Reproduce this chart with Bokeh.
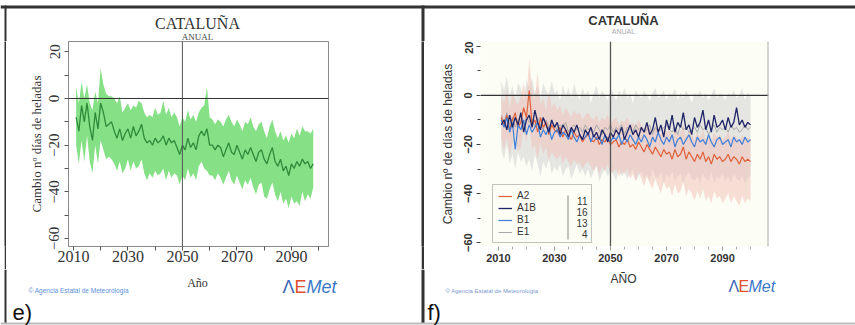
from bokeh.plotting import figure
from bokeh.layouts import row, column
from bokeh.models import (Range1d, FixedTicker, Span, Label, BoxAnnotation,
                          Legend, LegendItem)
from bokeh.embed import file_html
from bokeh.resources import INLINE

# ---------------- data: panel e (annual, ensemble) ----------------
years_e = list(range(2011, 2099))
mean_e = [-8, -14, -3, -10, -2, -12, -18, -6, -13, -2,
          -6, -12, -11, -10, -14, -17, -13, -18, -15, -13,
          -17, -12, -16, -14, -11, -17, -19, -18, -20, -17,
          -19, -18, -16, -20, -17, -19, -18, -21, -24, -20,
          -22, -17, -21, -19, -22, -16, -14, -16, -13, -20,
          -20, -22, -20, -21, -25, -22, -19, -23, -24, -20,
          -23, -26, -22, -24, -21, -24, -27, -23, -22, -26,
          -28, -24, -21, -27, -29, -26, -31, -29, -33, -28,
          -30, -27, -29, -26, -28, -27, -30, -28]
hi_e = [5, -2, 7, 0, 6, -2, -5, 3, -2, 13,
        6, 2, 1, 1, 0, -2, 1, -6, -4, -2,
        -5, -3, -4, -1, -2, -6, -8, -7, -8, -4,
        -7, -6, -1, -7, -4, -8, -6, -8, -12, -8,
        -10, -5, -9, -7, -10, -6, -4, -3, 5, -8,
        -9, -11, -9, -10, -12, -9, -7, -10, -12, -9,
        -11, -14, -10, -11, -8, -12, -14, -11, -10, -14,
        -17, -12, -9, -14, -17, -14, -18, -16, -19, -15,
        -17, -13, -16, -12, -14, -14, -15, -13]
lo_e = [-20, -28, -18, -27, -16, -27, -32, -20, -28, -18,
        -22, -26, -25, -26, -28, -31, -27, -32, -30, -26,
        -31, -27, -30, -29, -26, -32, -35, -32, -34, -31,
        -33, -32, -30, -35, -31, -34, -32, -33, -37, -33,
        -35, -30, -34, -32, -35, -29, -27, -30, -31, -33,
        -33, -35, -32, -34, -37, -34, -31, -35, -37, -33,
        -36, -39, -35, -37, -34, -38, -41, -37, -36, -42,
        -43, -39, -36, -41, -44, -40, -45, -43, -47, -42,
        -45, -44, -46, -40, -44, -41, -43, -38]

# ---------------- data: panel f (per scenario) ----------------
years_f = list(range(2011, 2101))
scen_names = ["A2", "A1B", "B1", "E1"]
scen_counts = ["11", "16", "13", "4"]
mean_a2 = [-9, -12, -8, -14, -10, -7, -13, -11, -5, -9,
           2, -12, -10, -15, -9, -13, -11, -16, -12, -14,
           -15, -13, -17, -14, -16, -18, -15, -17, -16, -19,
           -17, -16, -18, -19, -17, -20, -18, -19, -17, -20,
           -19, -18, -21, -19, -20, -18, -21, -20, -22, -19,
           -21, -23, -20, -22, -24, -21, -23, -25, -22, -24,
           -23, -26, -22, -25, -24, -21, -26, -23, -25, -27,
           -24, -26, -23, -27, -25, -28, -24, -26, -25, -27,
           -26, -24, -27, -25, -26, -28, -25, -27, -26, -27]
mean_a1b = [-12, -10, -14, -8, -13, -9, -12, -7, -15, -10,
            -8, -13, -6, -11, -14, -9, -12, -15, -10, -13,
            -11, -16, -12, -14, -17, -13, -15, -12, -16, -18,
            -14, -16, -13, -17, -15, -18, -14, -16, -19, -15,
            -17, -14, -16, -13, -18, -15, -12, -16, -14, -17,
            -13, -15, -11, -16, -14, -9, -15, -12, -17, -10,
            -14, -8, -15, -11, -13, -7, -14, -12, -16, -9,
            -13, -11, -6, -14, -10, -15, -8, -13, -12, -10,
            -14, -9, -13, -11, -5, -12, -10, -13, -11, -12]
mean_b1 = [-10, -13, -9, -15, -11, -22, -12, -14, -10, -16,
           -12, -15, -13, -11, -17, -14, -16, -13, -18, -15,
           -14, -17, -15, -16, -18, -14, -17, -19, -16, -18,
           -17, -15, -19, -16, -18, -17, -20, -16, -18, -19,
           -17, -18, -16, -20, -17, -19, -16, -18, -20, -17,
           -19, -16, -18, -21, -17, -19, -15, -18, -20, -17,
           -19, -16, -21, -18, -17, -20, -18, -16, -19, -21,
           -17, -19, -18, -20, -16, -19, -21, -18, -17, -20,
           -19, -18, -21, -17, -19, -18, -20, -17, -19, -18]
mean_e1 = [-8, -11, -7, -12, -9, -13, -10, -8, -12, -9,
           -11, -10, -13, -9, -12, -14, -10, -13, -11, -12,
           -14, -12, -13, -11, -15, -13, -12, -14, -13, -15,
           -12, -14, -13, -15, -12, -14, -16, -13, -14, -12,
           -15, -13, -14, -12, -16, -13, -14, -15, -12, -14,
           -13, -15, -14, -12, -16, -13, -15, -14, -13, -12,
           -14, -15, -13, -16, -12, -14, -13, -15, -14, -13,
           -15, -12, -14, -13, -16, -14, -12, -15, -13, -14,
           -13, -15, -12, -14, -13, -15, -14, -12, -14, -13]
hi_e1 = [6, 2, 8, 0, 4, -1, 5, 3, -2, 6,
         3, 7, 1, 4, -1, 5, 2, 0, 6, 1,
         2, -2, 4, 0, 3, -1, 5, 1, -2, 3,
         0, 2, -3, 1, 4, -1, 2, 0, -2, 3,
         1, -2, 2, 0, 3, -1, 1, -3, 2, 0,
         -1, 2, 0, -2, 1, 3, -1, 0, 2, -2,
         1, 0, 3, -2, 1, -1, 2, 0, -3, 1,
         0, 2, -1, 1, -2, 0, 3, -1, 1, 0,
         -2, 1, 0, 2, -1, 0, 3, -2, 1, 0]
lo_e1 = [-22, -26, -20, -28, -24, -30, -23, -27, -25, -29,
         -26, -31, -24, -28, -33, -27, -30, -26, -32, -29,
         -31, -28, -33, -30, -29, -34, -31, -28, -32, -30,
         -33, -30, -34, -31, -29, -35, -32, -30, -33, -31,
         -32, -35, -30, -33, -31, -34, -32, -30, -35, -33,
         -31, -34, -32, -35, -30, -33, -34, -31, -36, -32,
         -34, -31, -35, -33, -32, -36, -33, -31, -34, -35,
         -33, -36, -32, -34, -35, -31, -36, -33, -34, -32,
         -35, -33, -36, -32, -34, -35, -33, -36, -34, -33]
hi_a2 = [0, -3, 2, -5, 1, -2, -4, 0, 5, -1,
         15, 3, -2, 10, -4, -1, -6, 2, -5, -3,
         -6, -4, -8, -5, -7, -9, -6, -8, -7, -10,
         -8, -7, -9, -10, -8, -11, -9, -10, -8, -11,
         -10, -9, -12, -10, -11, -9, -12, -11, -13, -10,
         -12, -14, -11, -13, -15, -12, -14, -16, -13, -15,
         -14, -17, -13, -16, -15, -12, -17, -14, -16, -18,
         -15, -17, -14, -18, -16, -19, -15, -17, -16, -18,
         -17, -15, -18, -16, -17, -19, -16, -18, -17, -18]
lo_a2 = [-18, -22, -17, -24, -20, -15, -23, -21, -14, -19,
         -12, -22, -20, -26, -19, -24, -21, -27, -23, -25,
         -26, -24, -28, -25, -27, -29, -26, -28, -27, -30,
         -28, -27, -29, -31, -28, -32, -29, -31, -28, -32,
         -31, -30, -33, -31, -32, -30, -34, -32, -35, -31,
         -34, -37, -33, -36, -38, -34, -37, -40, -35, -38,
         -37, -41, -36, -40, -39, -35, -41, -38, -40, -43,
         -39, -42, -38, -43, -41, -44, -39, -42, -41, -44,
         -42, -40, -44, -41, -43, -45, -41, -44, -42, -43]

x_major = [2010, 2030, 2050, 2070, 2090]
x_minor_e = [2020, 2040, 2060, 2080, 2100]
x_minor_f = [2015, 2020, 2025, 2035, 2040, 2045, 2055, 2060, 2065, 2075, 2080, 2085, 2095, 2100]
y_major = [20, 0, -20, -40, -60]
y_minor = [10, -10, -30, -50]

W = 855
H = 325
T = 41          # top strip height (frames start here)
M = 228         # chart row height
B = H - T - M   # bottom strip height
PAD = 4         # white gap left of the first panel border
LW_E = 2        # left border width
W_E = 415
LW_F = 3        # divider width
W_F = W - PAD - LW_E - W_E - LW_F
X_DIV = PAD + LW_E + W_E
SERIF = "Liberation Serif"
SANS = "Liberation Sans"
DARK = "#333333"


def canvas_label(p, x, y, text, size, color="#222", font=SANS, align="center",
                 style="normal", baseline="middle", level="overlay"):
    p.add_layout(Label(x=x, y=y, x_units="canvas", y_units="canvas", text=text,
                       text_font=font, text_font_size=size, text_color=color,
                       text_align=align, text_baseline=baseline,
                       text_font_style=style, level=level))


def canvas_box(p, l, r, t, b, color):
    p.add_layout(BoxAnnotation(left=l, right=r, top=t, bottom=b,
                               left_units="canvas", right_units="canvas",
                               top_units="canvas", bottom_units="canvas",
                               fill_color=color, fill_alpha=1.0, line_color=None))


def strip(width, height, fill="white"):
    s = figure(width=width, height=height, output_backend="svg", toolbar_location=None,
               title=None, x_axis_type=None, y_axis_type=None,
               x_range=Range1d(0, 1), y_range=Range1d(0, 1),
               min_border=0, min_border_left=0, min_border_right=0,
               min_border_top=0, min_border_bottom=0)
    s.outline_line_color = None
    s.xgrid.visible = False
    s.ygrid.visible = False
    s.background_fill_color = fill
    s.border_fill_color = fill
    return s


def add_logo(p, x, y, size, step):
    canvas_label(p, x, y, "Λ", size, "#3b64b8", SANS, "left")
    canvas_label(p, x + step, y, "E", size, "#e0502a", SANS, "left")
    canvas_label(p, x + 2 * step, y, "Met", size, "#3b78c8", SANS, "left", "italic")


# ======================= top strip (titles) =======================
top = strip(W, T)
canvas_box(top, 0, W, 5, 8, DARK)
canvas_box(top, PAD, PAD + LW_E, 5, T, DARK)
canvas_box(top, X_DIV, X_DIV + LW_F, 5, T, DARK)
canvas_label(top, 197, 23, "CATALUÑA", "16px", DARK, SERIF)
canvas_label(top, 197, 36, "ANUAL", "9px", "#444444", SERIF)
canvas_label(top, 623, 20, "CATALUÑA", "13px", DARK, SANS, "center", "bold")
canvas_label(top, 623, 31, "ANUAL", "7px", "#aaaaaa", SANS)

# ======================= panel e chart =======================
pe = figure(width=W_E, height=M, output_backend="svg", toolbar_location=None,
            title=None, x_range=Range1d(2008.2, 2103.6), y_range=Range1d(-63.4, 24.4),
            min_border_left=62, min_border_right=93, min_border_top=0,
            min_border_bottom=23)
pe.xgrid.visible = False
pe.ygrid.visible = False
pe.outline_line_color = "#8a8a8a"
pe.background_fill_color = "white"
pe.border_fill_color = "white"

pe.varea(x=years_e, y1=lo_e, y2=hi_e, fill_color="#86e086", fill_alpha=1.0)
pe.line(x=years_e, y=mean_e, line_color="#2e8b3a", line_width=1.3)
pe.add_layout(Span(location=2050, dimension="height", line_color="#555555", line_width=1))
pe.add_layout(Span(location=0, dimension="width", line_color=DARK, line_width=1))

pe.xaxis.ticker = FixedTicker(ticks=x_major, minor_ticks=x_minor_e)
pe.yaxis.ticker = FixedTicker(ticks=y_major, minor_ticks=y_minor)
for ax in (pe.xaxis[0], pe.yaxis[0]):
    ax.axis_line_color = "#8a8a8a"
    ax.major_tick_in = 0
    ax.major_tick_out = 4
    ax.minor_tick_in = 0
    ax.minor_tick_out = 4
    ax.major_tick_line_color = "#555555"
    ax.minor_tick_line_color = "#555555"
    ax.major_label_text_font = SERIF
    ax.major_label_text_font_size = "16px"
    ax.major_label_text_color = DARK
    ax.axis_label_text_font = SERIF
    ax.axis_label_text_font_style = "normal"
    ax.axis_label_text_color = DARK
pe.yaxis.major_label_text_font_size = "15px"
pe.xaxis.major_label_standoff = 0
pe.yaxis.major_label_standoff = 5
pe.yaxis.major_label_orientation = "vertical"
pe.yaxis.axis_label = "Cambio nº días de heladas"
pe.yaxis.axis_label_text_font_size = "13px"
pe.yaxis.axis_label_standoff = 3

# ======================= panel f chart =======================
pf = figure(width=W_F, height=M, output_backend="svg", toolbar_location=None,
            title=None, x_range=Range1d(2003.6, 2106.4), y_range=Range1d(-61.6, 22.0),
            min_border_left=56, min_border_right=87, min_border_top=0,
            min_border_bottom=23)
pf.xgrid.visible = False
pf.ygrid.visible = False
pf.outline_line_color = None
pf.background_fill_color = "#fcfdf5"
pf.border_fill_color = "white"

pf.varea(x=years_f, y1=lo_e1, y2=hi_e1, fill_color="#d6d6d6", fill_alpha=0.6)
pf.varea(x=years_f, y1=lo_a2, y2=hi_a2, fill_color="#f2c0b6", fill_alpha=0.5)
r_e1 = pf.line(x=years_f, y=mean_e1, line_color="#a8a8a8", line_width=1)
r_a2 = pf.line(x=years_f, y=mean_a2, line_color="#e0603a", line_width=1.2)
r_b1 = pf.line(x=years_f, y=mean_b1, line_color="#3f7fd8", line_width=1.2)
r_a1b = pf.line(x=years_f, y=mean_a1b, line_color="#1e2466", line_width=1.3)

pf.add_layout(Span(location=2050, dimension="height", line_color="#555555", line_width=1.3))
pf.add_layout(Span(location=0, dimension="width", line_color=DARK, line_width=1.3))
pf.add_layout(Span(location=pf.x_range.end, dimension="height", line_color="#aaaaaa", line_width=2))

pf.xaxis.ticker = FixedTicker(ticks=x_major, minor_ticks=x_minor_f)
pf.yaxis.ticker = FixedTicker(ticks=y_major, minor_ticks=y_minor)
for ax in (pf.xaxis[0], pf.yaxis[0]):
    ax.axis_line_color = None
    ax.major_tick_in = 0
    ax.major_tick_out = 4
    ax.minor_tick_in = 0
    ax.minor_tick_out = 3
    ax.major_label_text_font = SANS
    ax.major_label_text_font_style = "bold"
    ax.major_label_text_font_size = "11px"
    ax.major_label_text_color = DARK
    ax.axis_label_text_font = SANS
    ax.axis_label_text_font_style = "normal"
    ax.axis_label_text_color = DARK
pf.xaxis.major_tick_line_color = "#999999"
pf.xaxis.minor_tick_line_color = "#aaaaaa"
pf.yaxis.major_tick_line_color = "#444444"
pf.yaxis.minor_tick_line_color = "#444444"
pf.xaxis.major_label_standoff = 3
pf.yaxis.major_label_standoff = 4
pf.yaxis.major_label_orientation = "vertical"
pf.yaxis.axis_label = "Cambio nº de días de heladas"
pf.yaxis.axis_label_text_font_size = "12px"
pf.yaxis.axis_label_standoff = 7

legend = Legend(items=[LegendItem(label=n, renderers=[r])
                       for n, r in zip(scen_names, [r_a2, r_a1b, r_b1, r_e1])],
                location=(12, 3), orientation="vertical",
                label_text_font=SANS, label_text_font_size="10px",
                label_text_color=DARK, label_height=10, glyph_height=10,
                glyph_width=14, label_standoff=5, label_width=69, spacing=1,
                padding=5, margin=0, border_line_color="#888888",
                background_fill_color="white", background_fill_alpha=0.0)
pf.add_layout(legend)
for i, c in enumerate(scen_counts):
    canvas_label(pf, 163, 159 + 11 * i, c, "10px", DARK, SANS, "right")
canvas_box(pf, 143, 144, 154, 198, "#888888")

# ======================= bottom strip =======================
bot = strip(W, B)
canvas_box(bot, PAD, PAD + LW_E, 0, B - 2, DARK)
canvas_box(bot, X_DIV, X_DIV + LW_F, 0, B - 2, DARK)
canvas_box(bot, 0, W, B - 3, B - 1, "#bbbbbb")
canvas_label(bot, 197, 13, "Año", "12px", DARK, SERIF)
canvas_label(bot, 28, 21, "© Agencia Estatal de Meteorología", "6.5px", "#5b8fd6", SANS, "left")
add_logo(bot, 282, 17, "18px", 12)
canvas_label(bot, 12, 43, "e)", "22px", "#111111", SANS, "left")
canvas_label(bot, 623, 9, "AÑO", "12px", DARK, SANS)
canvas_label(bot, 445, 21, "© Agencia Estatal de Meteorología", "6px", "#7a9ad0", SANS, "left")
add_logo(bot, 728, 17, "16px", 10)
canvas_label(bot, 427, 43, "f)", "22px", "#111111", SANS, "left")

gap = strip(PAD, M)
vl_e = strip(LW_E, M, DARK)
vl_f = strip(LW_F, M, DARK)

middle = row(gap, vl_e, pe, vl_f, pf, spacing=0)
layout = column(row(top), middle, row(bot), spacing=0)
open("out.html", "w").write(file_html(layout, INLINE))
